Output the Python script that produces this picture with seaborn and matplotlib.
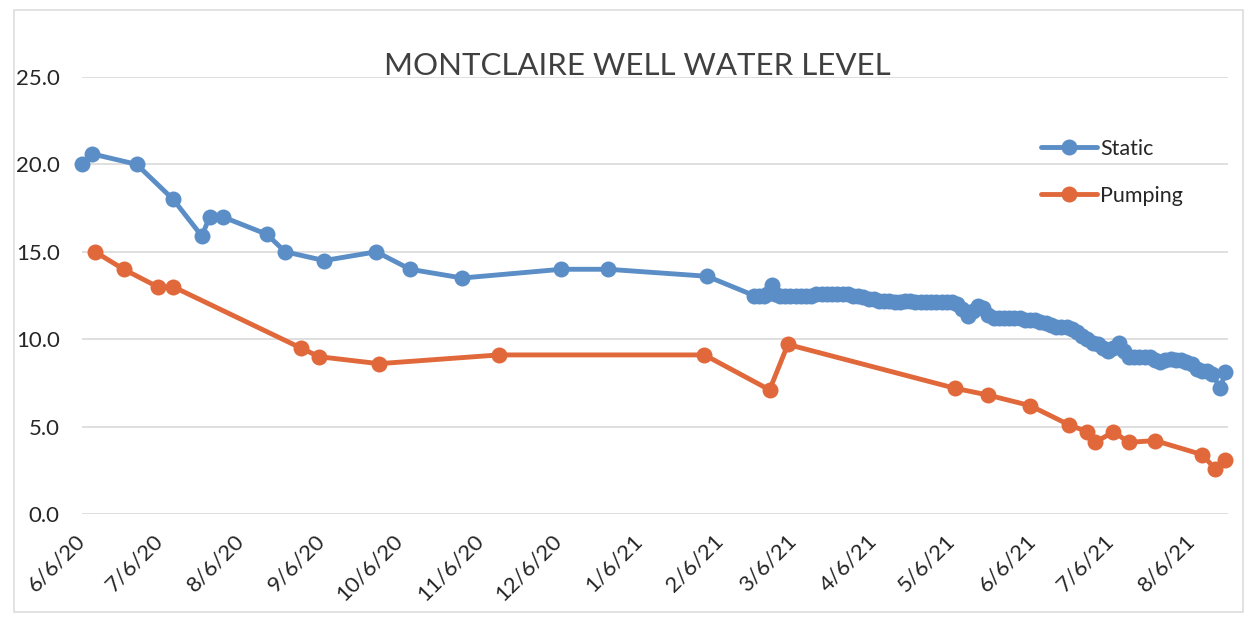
import matplotlib
matplotlib.use("Agg")
import matplotlib.pyplot as plt
import pandas as pd
import seaborn as sns
from matplotlib.patches import Rectangle

# readings taken off the scanned chart
static_dates = [
    "2020-06-06", "2020-06-10", "2020-06-27", "2020-07-11", "2020-07-22", "2020-07-25", "2020-07-30",
    "2020-08-16", "2020-08-23", "2020-09-07", "2020-09-27", "2020-10-10", "2020-10-30", "2020-12-07",
    "2020-12-25", "2021-02-01",
    "2021-02-19", "2021-02-21", "2021-02-23", "2021-02-24", "2021-02-26", "2021-02-27", "2021-03-01",
    "2021-03-03", "2021-03-05", "2021-03-07", "2021-03-09", "2021-03-11", "2021-03-13", "2021-03-15",
    "2021-03-17", "2021-03-19", "2021-03-21", "2021-03-23", "2021-03-25", "2021-03-27", "2021-03-29",
    "2021-03-31", "2021-04-02", "2021-04-04", "2021-04-06", "2021-04-08", "2021-04-10", "2021-04-12",
    "2021-04-14", "2021-04-16", "2021-04-18", "2021-04-20", "2021-04-22", "2021-04-24", "2021-04-26",
    "2021-04-28", "2021-04-30", "2021-05-02", "2021-05-04", "2021-05-06", "2021-05-08", "2021-05-10",
    "2021-05-12", "2021-05-14", "2021-05-16", "2021-05-18", "2021-05-20", "2021-05-22", "2021-05-24",
    "2021-05-26", "2021-05-28", "2021-05-30", "2021-06-01", "2021-06-03", "2021-06-05", "2021-06-07",
    "2021-06-09", "2021-06-11", "2021-06-13", "2021-06-15", "2021-06-17", "2021-06-19", "2021-06-21",
    "2021-06-23", "2021-06-25", "2021-06-27", "2021-06-29", "2021-07-01", "2021-07-03", "2021-07-05",
    "2021-07-07", "2021-07-09", "2021-07-11", "2021-07-13", "2021-07-15", "2021-07-17", "2021-07-19",
    "2021-07-21", "2021-07-23", "2021-07-25", "2021-07-27", "2021-07-29", "2021-07-31", "2021-08-02",
    "2021-08-04", "2021-08-06", "2021-08-08", "2021-08-10", "2021-08-12", "2021-08-14", "2021-08-17",
    "2021-08-19",
]
static_values = [
    20.0, 20.6, 20.0, 18.0, 15.9, 17.0, 17.0,
    16.0, 15.0, 14.5, 15.0, 14.0, 13.5, 14.0,
    14.0, 13.6,
    12.5, 12.5, 12.5, 12.6, 13.1, 12.6, 12.5,
    12.5, 12.5, 12.5, 12.5, 12.5, 12.5, 12.6,
    12.6, 12.6, 12.6, 12.6, 12.6, 12.6, 12.5,
    12.5, 12.4, 12.3, 12.3, 12.2, 12.2, 12.2,
    12.1, 12.1, 12.2, 12.2, 12.1, 12.1, 12.1,
    12.1, 12.1, 12.1, 12.1, 12.1, 12.0, 11.7,
    11.3, 11.6, 11.9, 11.8, 11.4, 11.2, 11.2,
    11.2, 11.2, 11.2, 11.2, 11.1, 11.1, 11.1,
    11.0, 10.9, 10.8, 10.7, 10.7, 10.7, 10.6,
    10.4, 10.2, 10.0, 9.8, 9.7, 9.5, 9.3,
    9.5, 9.8, 9.3, 9.0, 9.0, 9.0, 9.0,
    9.0, 8.8, 8.7, 8.8, 8.85, 8.8, 8.8,
    8.7, 8.6, 8.3, 8.2, 8.2, 8.0, 7.2,
    8.1,
]

pump_dates = [
    "2020-06-11", "2020-06-22", "2020-07-05", "2020-07-11", "2020-08-29", "2020-09-05", "2020-09-28",
    "2020-11-13", "2021-01-31", "2021-02-25", "2021-03-04", "2021-05-07", "2021-05-20", "2021-06-05",
    "2021-06-20", "2021-06-27", "2021-06-30", "2021-07-07", "2021-07-13", "2021-07-23", "2021-08-10",
    "2021-08-15", "2021-08-19",
]
pump_values = [
    15.0, 14.0, 13.0, 13.0, 9.5, 9.0, 8.6,
    9.1, 9.1, 7.1, 9.7, 7.2, 6.8, 6.2,
    5.1, 4.7, 4.1, 4.7, 4.1, 4.2, 3.4,
    2.6, 3.1,
]

tick_labels = ["6/6/20", "7/6/20", "8/6/20", "9/6/20", "10/6/20", "11/6/20", "12/6/20",
               "1/6/21", "2/6/21", "3/6/21", "4/6/21", "5/6/21", "6/6/21", "7/6/21", "8/6/21"]
y_ticks = [0, 5, 10, 15, 20, 25]

blue = "#5b8ec6"
orange = "#e0683a"

sns.set_theme(style="white")
plt.rcParams["font.family"] = ["Lato", "DejaVu Sans"]

fig = plt.figure(figsize=(12.49, 6.21), dpi=100)
ax = fig.add_axes([82 / 1249, 1 - 514 / 621, (1228 - 82) / 1249, (514 - 77) / 621])

staticDf = pd.DataFrame({"date": pd.to_datetime(static_dates), "level": static_values})
pumpDf = pd.DataFrame({"date": pd.to_datetime(pump_dates), "level": pump_values})

sns.lineplot(data=staticDf, x="date", y="level", ax=ax, color=blue, linewidth=3.5,
             marker="o", markersize=11.5, markeredgewidth=0, estimator=None,
             label="Static", clip_on=False, zorder=3)
sns.lineplot(data=pumpDf, x="date", y="level", ax=ax, color=orange, linewidth=3.5,
             marker="o", markersize=11.5, markeredgewidth=0, estimator=None,
             label="Pumping", clip_on=False, zorder=3)

ax.set_xlim(pd.Timestamp("2020-06-06"), pd.Timestamp("2021-08-20"))
ax.set_ylim(0, 25)
ax.set_yticks(y_ticks)
ax.set_yticklabels([f"{v:.1f}" for v in y_ticks])
ax.set_xticks(pd.to_datetime(tick_labels, format="%m/%d/%y"))
ax.set_xticklabels(tick_labels, rotation=45, ha="right", va="center", rotation_mode="anchor")
ax.tick_params(axis="both", length=0, labelsize=16, labelcolor="#262626")
ax.tick_params(axis="y", pad=16)
ax.tick_params(axis="x", pad=17)
ax.set_xlabel("")
ax.set_ylabel("")
ax.yaxis.grid(True, color="#dcdcdc", linewidth=1.3)
ax.xaxis.grid(False)
for s in ax.spines.values():
    s.set_visible(False)

fig.text(637 / 1249, 1 - 66 / 621, "MONTCLAIRE WELL WATER LEVEL", ha="center", va="center",
         fontsize=22.5, color="#404040")

ax.legend(loc="upper left", bbox_to_anchor=(1030 / 1249, 1 - 128 / 621),
          bbox_transform=fig.transFigure, frameon=False, fontsize=15.5,
          handlelength=2.6, handletextpad=0.15, labelspacing=1.25, borderpad=0)

# faint outer chart frame
fig.patches.append(Rectangle((14 / 1249, 1 - 612 / 621), (1243 - 14) / 1249, (612 - 10) / 621,
                             transform=fig.transFigure, fill=False, edgecolor="#dddddd",
                             linewidth=1.2))

fig.savefig("out.png", dpi=100)
